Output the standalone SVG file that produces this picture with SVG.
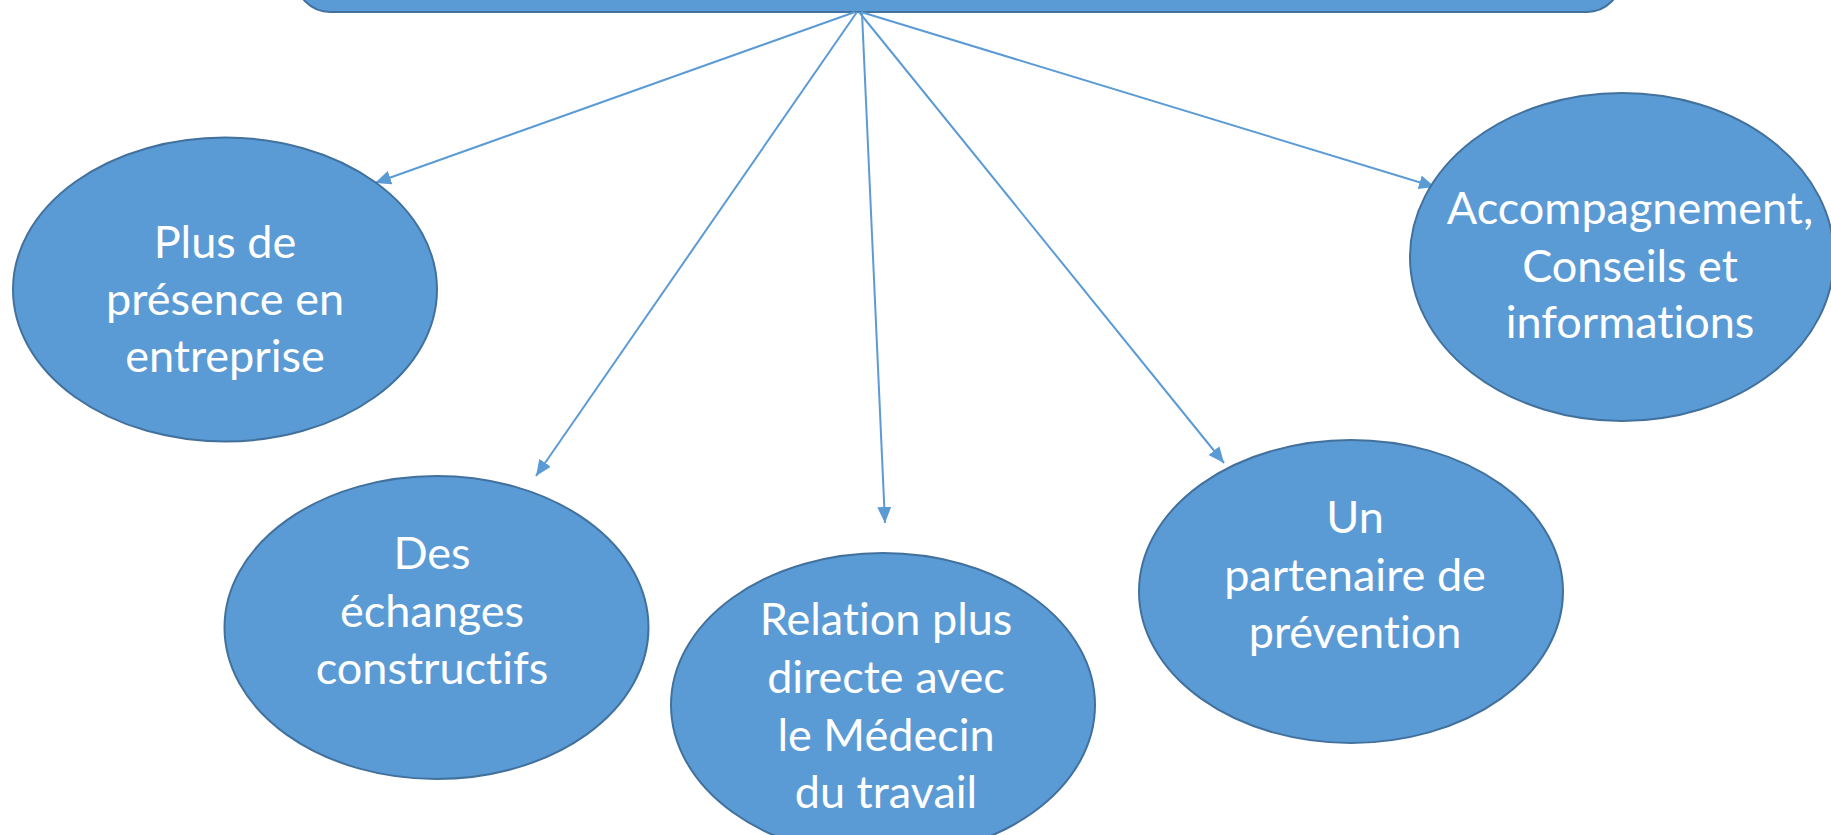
<svg xmlns="http://www.w3.org/2000/svg" width="1831" height="835" viewBox="0 0 1831 835">
<defs>
<style>
.node{fill:#5B9BD5;stroke:#41719C;stroke-width:2}
.lbl{font-family:Lato,"Open Sans","Liberation Sans",sans-serif;font-size:45px;fill:#FFFFFF;text-anchor:middle;font-variant-ligatures:none;font-feature-settings:"liga" 0}
.conn{stroke:#5B9BD5;stroke-width:2;fill:none;marker-end:url(#ah)}
</style>
<marker id="ah" markerUnits="userSpaceOnUse" markerWidth="18" markerHeight="16" refX="16" refY="7" orient="auto">
<path d="M0,0 L16,7 L0,14 Z" fill="#5B9BD5"/>
</marker>
</defs>
<rect width="1831" height="835" fill="#FFFFFF"/>
<g id="top">
<rect class="node" x="296" y="-100" width="1325" height="112" rx="34" ry="34"/>
</g>
<g id="connectors">
<line class="conn" x1="855" y1="12" x2="375" y2="183"/>
<line class="conn" x1="857" y1="12" x2="536" y2="476"/>
<line class="conn" x1="862" y1="13" x2="885" y2="523"/>
<line class="conn" x1="859" y1="12" x2="1224" y2="463"/>
<line class="conn" x1="861" y1="12" x2="1435" y2="187"/>
</g>
<g id="n1">
<ellipse class="node" cx="225" cy="289.5" rx="212" ry="152"/>
<text class="lbl" x="225" y="258">Plus de</text>
<text class="lbl" x="225" y="315">présence en</text>
<text class="lbl" x="225" y="372">entreprise</text>
</g>
<g id="n2">
<ellipse class="node" cx="436.5" cy="627.5" rx="212" ry="151.5"/>
<text class="lbl" x="432" y="569">Des</text>
<text class="lbl" x="432" y="627">échanges</text>
<text class="lbl" x="432" y="684">constructifs</text>
</g>
<g id="n3">
<ellipse class="node" cx="883" cy="705" rx="212" ry="152"/>
<text class="lbl" x="886" y="635">Relation plus</text>
<text class="lbl" x="886" y="693">directe avec</text>
<text class="lbl" x="886" y="751">le Médecin</text>
<text class="lbl" x="886" y="808">du travail</text>
</g>
<g id="n4">
<ellipse class="node" cx="1351" cy="591.5" rx="212" ry="151.5"/>
<text class="lbl" x="1355" y="533">Un</text>
<text class="lbl" x="1355" y="591">partenaire de</text>
<text class="lbl" x="1355" y="648">prévention</text>
</g>
<g id="n5">
<ellipse class="node" cx="1622" cy="257" rx="212" ry="164"/>
<text class="lbl" x="1630" y="224">Accompagnement,</text>
<text class="lbl" x="1630" y="282">Conseils et</text>
<text class="lbl" x="1630" y="338">informations</text>
</g>
</svg>
